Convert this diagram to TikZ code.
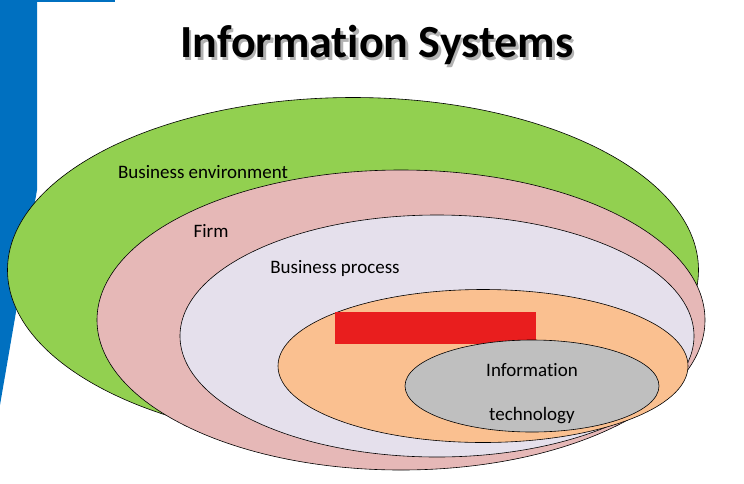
\documentclass[tikz,border=0pt]{standalone}
\usepackage{fontspec}
\setmainfont{Carlito}[Ligatures=NoCommon]
\usetikzlibrary{shapes.geometric}
\definecolor{envgreen}{RGB}{146,208,80}
\definecolor{firmpink}{RGB}{230,184,183}
\definecolor{proclav}{RGB}{229,224,236}
\definecolor{orgorange}{RGB}{250,192,144}
\definecolor{itgray}{RGB}{191,191,191}
\definecolor{barred}{RGB}{233,30,30}
\definecolor{sideblue}{RGB}{0,112,192}
\begin{document}
\begin{tikzpicture}[x=1pt,y=-1pt,
    layer/.style={draw=black, line width=.6pt, ellipse, inner sep=0pt},
    lbl/.style={font=\fontsize{19}{22}\selectfont, inner sep=0pt},
    ttl/.style={font=\fontsize{46}{52}\selectfont\bfseries, inner sep=0pt}]
      \useasboundingbox (0,0) rectangle (744,483);

      % side bar
      \fill[sideblue] (0,0) -- (37,0) -- (37,190) -- (0,405) -- cycle;
      \fill[sideblue] (37,0) rectangle (115,2);

      % title with shadow
      \node (titleshadow) [ttl, text=black!30] at (379.5,47.5) {Information Systems};
      \node (title) [ttl] at (377,45) {Information Systems};

      % nested layers
      \node (env)  [layer, fill=envgreen,  minimum width=691, minimum height=345] at (353,270) {};
      \node (firm) [layer, fill=firmpink,  minimum width=608, minimum height=300] at (401,320) {};
      \node (proc) [layer, fill=proclav,   minimum width=514, minimum height=242] at (437,336) {};
      \node (org)  [layer, fill=orgorange, minimum width=410, minimum height=153] at (483,366) {};
      \node (bar)  [fill=barred, minimum width=201, minimum height=32, inner sep=0pt] at (435.5,328) {};
      \node (it)   [layer, fill=itgray,    minimum width=254, minimum height=92] at (532,386) {};

      % labels
      \node (envlbl)  [lbl] at (203,172) {Business environment};
      \node (firmlbl) [lbl] at (211,231) {Firm};
      \node (proclbl) [lbl] at (335,268) {Business process};
      \node (itlbl1)  [lbl] at (532,370) {Information};
      \node (itlbl2)  [lbl] at (532,416) {technology};
\end{tikzpicture}
\end{document}
